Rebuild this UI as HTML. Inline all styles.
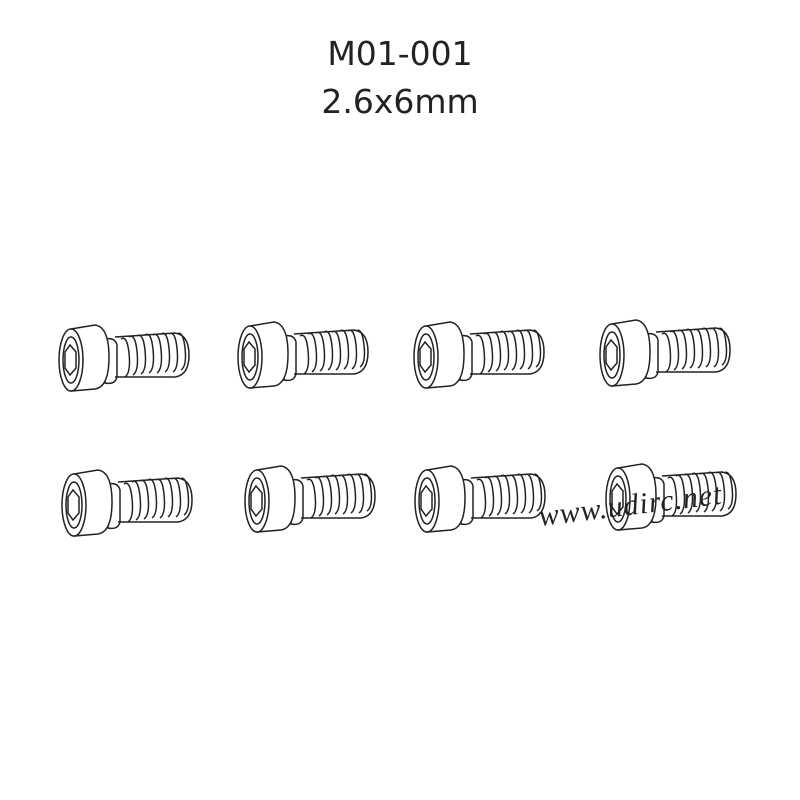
<!DOCTYPE html>
<html><head><style>
body{margin:0;background:#fff;width:800px;height:800px;overflow:hidden;position:relative;font-family:"DejaVu Sans","Liberation Sans",sans-serif;}
.t{position:absolute;left:0;width:800px;text-align:center;font-size:33px;color:#222;}
</style></head><body>
<div class="t" style="top:34px">M01-001</div>
<div class="t" style="top:82px">2.6x6mm</div>
<svg width="800" height="800" style="position:absolute;left:0;top:0">
<defs>
<g id="s" fill="#fff" stroke="#222" stroke-width="1.5">
<path d="M48 14 Q58 12 60 20 L60 52 Q58 60 48 58 Z"/>
<g fill="none">
<path d="M58 12 L118 8 Q132 10 132 30 Q132 50 118 52 L58 52"/>
<path d="M64 14 q6 -4 8 14 q2 20 -4 24 M72 12 q6 -4 8 14 q2 20 -4 24 M80 11 q6 -4 8 14 q2 20 -4 24 M88 10 q6 -4 8 14 q2 20 -4 24 M96 10 q6 -4 8 14 q2 20 -4 24 M104 9 q6 -4 8 14 q2 20 -4 24 M112 9 q6 -4 8 14 q2 20 -4 24 M120 9 q6 -4 8 14 q2 18 -4 22"/>
</g>
<path d="M14 4 L38 0 Q52 2 52 32 Q52 62 38 64 L14 66 Z"/>
<ellipse cx="14" cy="35" rx="12" ry="31"/>
<ellipse cx="14" cy="35" rx="8" ry="23" fill="none"/>
<path d="M8 27 L13 20 L19 27 L19 43 L13 50 L8 43 Z" fill="none"/>
</g>
</defs>
<use href="#s" x="57" y="325"/>
<use href="#s" x="236" y="322"/>
<use href="#s" x="412" y="322"/>
<use href="#s" x="598" y="320"/>
<use href="#s" x="60" y="470"/>
<use href="#s" x="243" y="466"/>
<use href="#s" x="413" y="466"/>
<use href="#s" x="604" y="464"/>
<text x="540" y="526" font-family="Liberation Serif,serif" font-style="italic" font-size="30" fill="#222" transform="rotate(-7 540 526)" letter-spacing="1">www.udirc.net</text>
</svg>
</body></html>
